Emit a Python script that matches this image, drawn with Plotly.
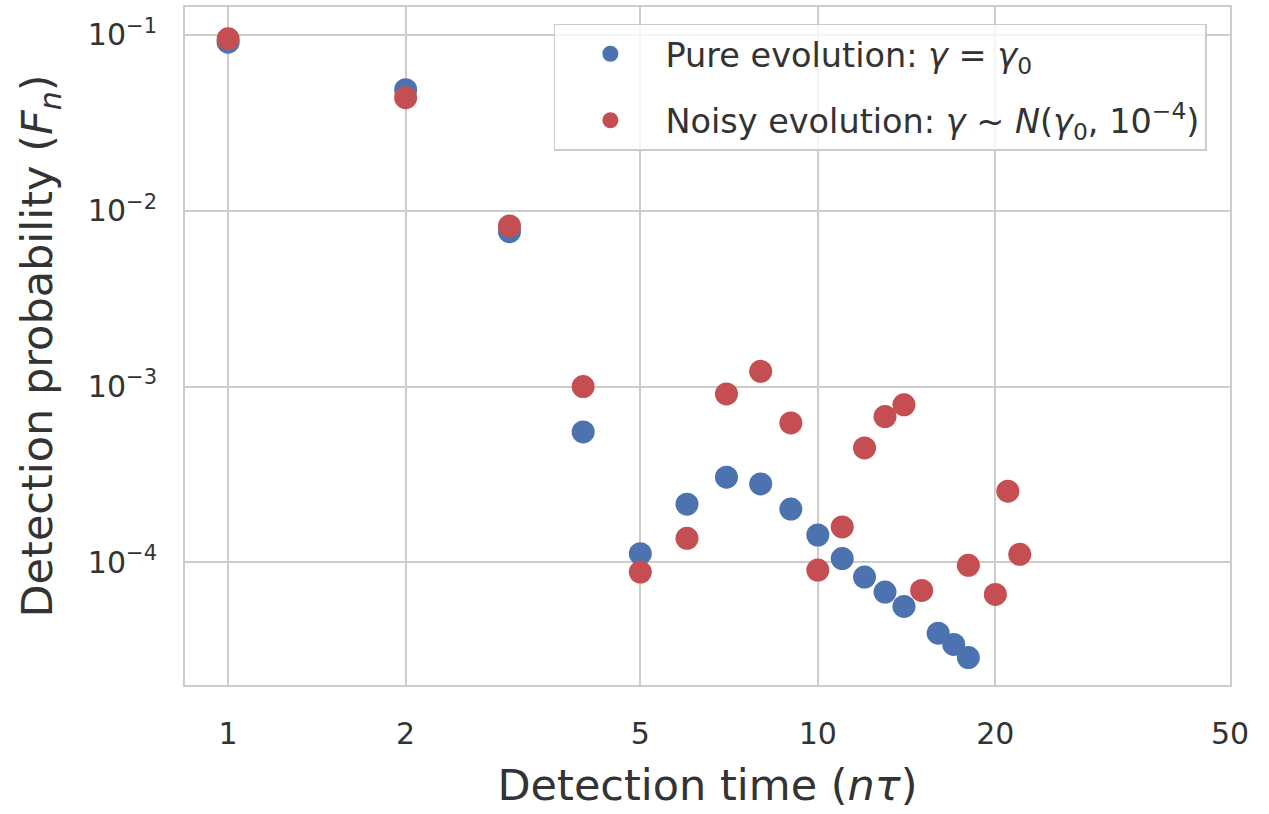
import plotly.graph_objects as go
import numpy as np

# Data
pure_n = [1, 2, 3, 4, 5, 6, 7, 8, 9, 10, 11, 12, 13, 14, 16, 17, 18]
pure_F = [0.091, 0.0488, 0.0076, 5.52e-4, 1.12e-4, 2.14e-4, 3.05e-4, 2.79e-4,
          2.01e-4, 1.43e-4, 1.05e-4, 8.24e-5, 6.77e-5, 5.61e-5, 3.95e-5, 3.41e-5, 2.87e-5]

noisy_n = [1, 2, 3, 4, 5, 6, 7, 8, 9, 10, 11, 12, 13, 14, 15, 18, 20, 21, 22]
noisy_F = [0.095, 0.044, 0.0082, 1.0e-3, 8.8e-5, 1.37e-4, 9.08e-4, 1.22e-3, 6.21e-4,
           9.03e-5, 1.59e-4, 4.47e-4, 6.75e-4, 7.87e-4, 6.92e-5, 9.62e-5, 6.56e-5,
           2.54e-4, 1.11e-4]

x_tickvals = [1, 2, 5, 10, 20, 50]
x_ticktext = ["1", "2", "5", "10", "20", "50"]
y_tickvals = [1e-1, 1e-2, 1e-3, 1e-4]
y_exps = ["\u22121", "\u22122", "\u22123", "\u22124"]
y_ticktext = ["10<sup>" + e + "</sup>" for e in y_exps]

BLUE = "#4C72B0"
RED = "#C44E52"
TXT = "#333333"
GRID = "#cccccc"
FONT = "DejaVu Sans"

fig = go.Figure()
fig.add_trace(go.Scatter(
    x=pure_n, y=pure_F, mode="markers", name="Pure evolution: <i>\u03b3</i> = <i>\u03b3</i><sub>0</sub>",
    marker=dict(color=BLUE, size=23, line=dict(width=0)), legendgroup="a"))
fig.add_trace(go.Scatter(
    x=noisy_n, y=noisy_F, mode="markers",
    name="Noisy evolution: <i>\u03b3</i> ~ <i>N</i>(<i>\u03b3</i><sub>0</sub>, 10<sup>\u22124</sup>)",
    marker=dict(color=RED, size=23, line=dict(width=0)), legendgroup="b"))

fig.update_layout(
    width=1269, height=814,
    margin=dict(l=185, r=39, t=5, b=129),
    paper_bgcolor="white", plot_bgcolor="white",
    font=dict(family=FONT, color=TXT, size=28),
    showlegend=True,
    legend=dict(
        x=0.353, y=0.975, xanchor="left", yanchor="top",
        bgcolor="rgba(255,255,255,0.8)", bordercolor=GRID, borderwidth=1.5,
        font=dict(size=33.5, color=TXT, family=FONT),
        tracegroupgap=20, itemwidth=100,
    ),
    xaxis=dict(
        type="log", range=[np.log10(0.845), np.log10(50)],
        tickvals=x_tickvals, ticktext=x_ticktext,
        showgrid=True, gridcolor=GRID, gridwidth=1.5,
        showline=True, linecolor=GRID, linewidth=2, mirror=True,
        ticks="outside", ticklen=21, tickcolor="rgba(0,0,0,0)",
        tickfont=dict(size=30, color=TXT, family=FONT),
        zeroline=False,
        title=dict(text="Detection time (<i>n\u03c4</i>)", font=dict(size=43, color=TXT, family=FONT), standoff=20),
    ),
    yaxis=dict(
        type="log", range=[-4.698, -0.841],
        tickvals=y_tickvals, ticktext=y_ticktext,
        showgrid=True, gridcolor=GRID, gridwidth=1.5,
        showline=True, linecolor=GRID, linewidth=2, mirror=True,
        ticks="outside", ticklen=20, tickcolor="rgba(0,0,0,0)",
        tickfont=dict(size=30, color=TXT, family=FONT),
        zeroline=False,
        title=dict(text="Detection probability (<i>F</i><sub><i>n</i></sub>)", font=dict(size=43, color=TXT, family=FONT), standoff=22),
    ),
)

fig.write_html("out.html")
